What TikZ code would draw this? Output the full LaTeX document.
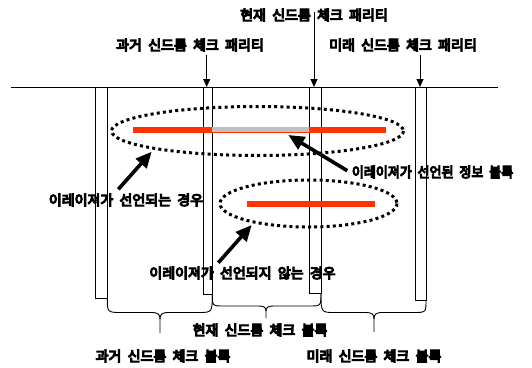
\documentclass[tikz,border=0pt]{standalone}
\usepackage{fontspec}
\newfontfamily\krb{Noto Sans CJK KR}[WordSpace=2.0, FakeBold=8]
\usetikzlibrary{arrows.meta}
\definecolor{ered}{HTML}{FF3300}
\definecolor{egray}{HTML}{C0C0C0}
\tikzset{
  thin line/.style={line width=0.9pt, draw=black},
  bar/.style={thin line},
  lbl/.style={font=\krb\fontsize{14}{16}\selectfont, inner sep=0pt},
  small arrow/.style={thin line, -{Triangle[width=7pt,length=8pt]}},
  big arrow/.style={line width=3.6pt, -{Triangle[width=14pt,length=16pt]}},
  dotring/.style={line width=3pt, dash pattern=on 3pt off 3.2pt},
  redline/.style={line width=5.3pt, draw=ered},
  brace/.style={thin line, line join=round},
}
\begin{document}
\begin{tikzpicture}[x=1pt,y=-1pt]
\useasboundingbox (0,0) rectangle (532,367);
% base line
\coordinate (L0) at (11,87);
\coordinate (L1) at (498,87);
\draw[thin line] (L0) -- (L1);
% bars
\draw[bar] (95.7,87) rectangle (107.3,298);
\draw[bar] (203,87) rectangle (212.3,294);
\draw[bar] (309.3,87) rectangle (321,293);
\draw[bar] (415,87) rectangle (426,300);
% braces
\draw[brace] (107.3,298) .. controls (107.3,312) and (107.3,312.5) .. (121,312.5) -- (151,312.5)
  .. controls (158,312.5) and (160,314) .. (160,319) -- (160,333);
\draw[brace] (160,319) .. controls (160,314) and (162,312.5) .. (169,312.5) -- (199,312.5)
  .. controls (212.3,312.5) and (212.3,312) .. (212.3,294);
\draw[brace] (212.3,294) .. controls (212.3,306) and (212.3,306) .. (224,306) -- (257,306)
  .. controls (264,306) and (266,307) .. (266,311) -- (266,318);
\draw[brace] (266,311) .. controls (266,307) and (268,306) .. (275,306) -- (309,306)
  .. controls (321,306) and (321,306) .. (321,293);
\draw[brace] (321,293) .. controls (321,312.5) and (321,312.5) .. (335,312.5) -- (365,312.5)
  .. controls (372,312.5) and (374,314) .. (374,319) -- (374,332);
\draw[brace] (374,319) .. controls (374,314) and (376,312.5) .. (383,312.5) -- (413,312.5)
  .. controls (426,312.5) and (426,312.5) .. (426,300);
% red lines
\draw[redline] (133.3,130) -- (386,130);
\draw[line width=4.3pt, draw=egray] (212.3,129.4) -- (309.3,129.4);
\draw[redline] (246.7,204) -- (375,204);
% dotted ellipses
\draw[dotring] (257.5,131) ellipse [x radius=146, y radius=24.5];
\draw[dotring] (308.5,203.5) ellipse [x radius=88.5, y radius=23.5];
% top labels
\node[lbl] (tc) at (314,15) {현재 신드롬 체크 패리티};
\node[lbl] (tp) at (190,45) {과거 신드롬 체크 패리티};
\node[lbl] (tf) at (403,45) {미래 신드롬 체크 패리티};
\coordinate (ac0) at (314,12);
\coordinate (ac1) at (314,87);
\coordinate (ap0) at (206.7,55);
\coordinate (ap1) at (206.7,87);
\coordinate (af0) at (420,55);
\coordinate (af1) at (420,87);
\draw[small arrow] (ac0) -- (ac1);
\draw[small arrow] (ap0) -- (ap1);
\draw[small arrow] (af0) -- (af1);
% middle labels and arrows
\node[lbl] (m1) at (126,200) {이레이져가 선언되는 경우};
\node[lbl, anchor=west] (m2) at (351.7,172) {\scalebox{0.93}[1]{이레이져가 선언된 정보 블록}};
\node[lbl] (m3) at (242.5,273) {이레이져가 선언되지 않는 경우};
\coordinate (b1s) at (118.3,189.3);
\coordinate (b1e) at (151.7,151.7);
\coordinate (b2s) at (347.3,170.7);
\coordinate (b2e) at (288.3,135);
\coordinate (b3s) at (218.3,262.7);
\coordinate (b3e) at (251.7,225);
\draw[big arrow] (b1s) -- (b1e);
\draw[big arrow] (b2s) -- (b2e);
\draw[big arrow] (b3s) -- (b3e);
% bottom labels
\node[lbl] (bc) at (260,330) {현재 신드롬 체크 블록};
\node[lbl] (bp) at (163,356) {과거 신드롬 체크 블록};
\node[lbl] (bf) at (374,356) {미래 신드롬 체크 블록};
\end{tikzpicture}
\end{document}
